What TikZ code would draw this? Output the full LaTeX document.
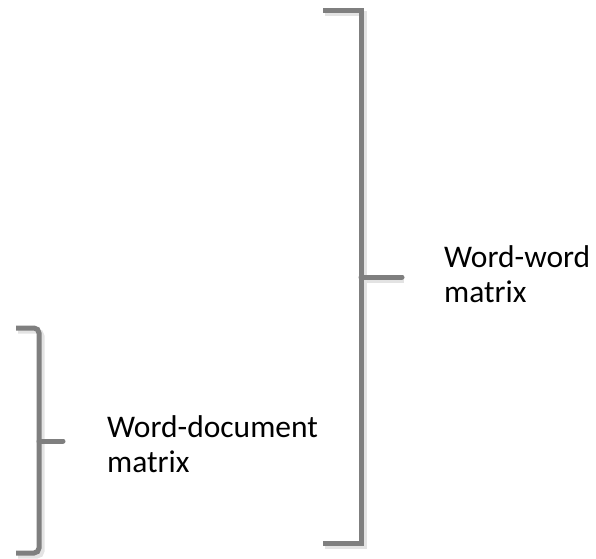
\documentclass[tikz,border=0pt]{standalone}
\usepackage{fontspec}
\setmainfont{Carlito}
\definecolor{brk}{HTML}{7F7F7F}
\definecolor{shd}{HTML}{E3E3E3}
\begin{document}
\begin{tikzpicture}[x=1pt,y=-1pt,
  brack/.style={draw=brk,line width=5pt},
  shadowline/.style={draw=shd,line width=5pt},
  lbl/.style={anchor=base west,inner sep=0pt,align=left,font=\fontsize{31.5}{35}\selectfont}]
\useasboundingbox (0,0) rectangle (596,558);
% big bracket shadow
\path[shadowline] (325,13) -- (364,13) -- (364,546) -- (325,546);
\path[shadowline] (364,280) -- (404,280);
% big bracket
\coordinate (bt) at (323,10);
\coordinate (bm) at (361,277);
\coordinate (bb) at (323,543);
\coordinate (btick) at (402,277);
\path[brack] (bt) -| (bm) |- (bb);
\path[brack,line cap=round] (bm) -- (btick);
% small bracket shadow
\path[shadowline,rounded corners=5pt] (18,331) -| (42,444) |- (18,556);
% small bracket
\coordinate (st) at (16,328);
\coordinate (sm) at (39,441);
\coordinate (sb) at (16,553);
\coordinate (stick) at (63,441);
\path[brack,rounded corners=5pt] (st) -| (sm) |- (sb);
\path[brack,line cap=round] (sm) -- (stick);
% labels
\node[lbl] (ww) at (444,302) {Word-word\\matrix};
\node[lbl] (wd) at (107,472) {Word-document\\matrix};
\end{tikzpicture}
\end{document}
